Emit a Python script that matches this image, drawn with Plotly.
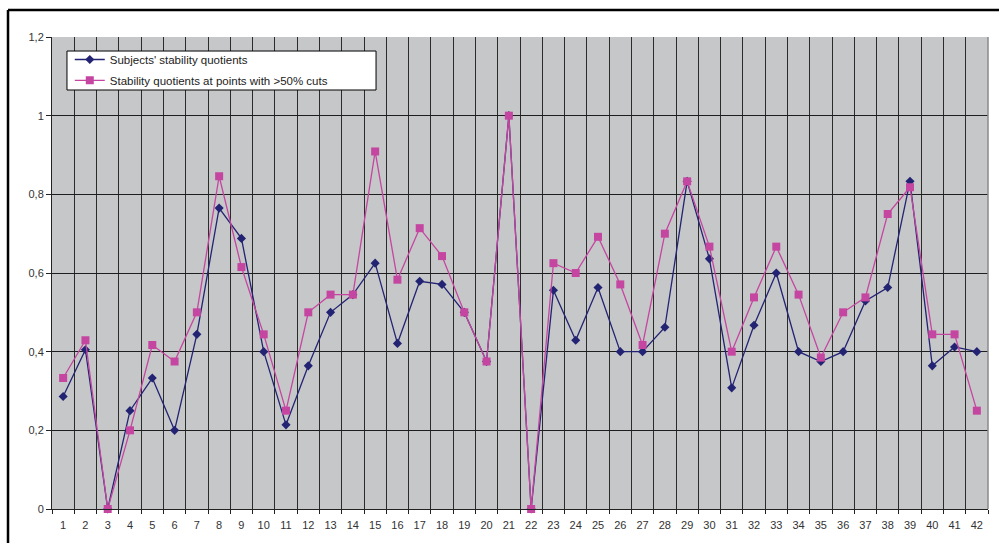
import plotly.graph_objects as go

categories = list(range(1, 43))
subjects = [0.286, 0.405, 0.0, 0.25, 0.333, 0.2, 0.444, 0.765, 0.688, 0.4,
            0.214, 0.364, 0.5, 0.545, 0.625, 0.421, 0.579, 0.571, 0.5, 0.375,
            1.0, 0.0, 0.556, 0.429, 0.563, 0.4, 0.4, 0.462, 0.833, 0.636,
            0.308, 0.467, 0.6, 0.4, 0.375, 0.4, 0.529, 0.563, 0.833, 0.364,
            0.412, 0.4]
cuts = [0.333, 0.429, 0.0, 0.2, 0.417, 0.375, 0.5, 0.846, 0.615, 0.444,
        0.25, 0.5, 0.545, 0.545, 0.909, 0.583, 0.714, 0.643, 0.5, 0.375,
        1.0, 0.0, 0.625, 0.6, 0.692, 0.571, 0.417, 0.7, 0.833, 0.667,
        0.4, 0.538, 0.667, 0.545, 0.385, 0.5, 0.538, 0.75, 0.818, 0.444,
        0.444, 0.25]
y_ticks = [0, 0.2, 0.4, 0.6, 0.8, 1.0, 1.2]
y_ticktext = ["0", "0,2", "0,4", "0,6", "0,8", "1", "1,2"]
names = ["Subjects' stability quotients", "Stability quotients at points with >50% cuts"]

BLUE = "#232373"
PINK = "#c546a0"

fig = go.Figure()
fig.add_trace(go.Scatter(
    x=categories, y=subjects, name=names[0], mode="lines+markers",
    line=dict(color=BLUE, width=1.3),
    marker=dict(symbol="diamond", size=7, color=BLUE),
    cliponaxis=False, legend="legend"))
fig.add_trace(go.Scatter(
    x=categories, y=cuts, name=names[1], mode="lines+markers",
    line=dict(color=PINK, width=1.3),
    marker=dict(symbol="square", size=8, color=PINK),
    cliponaxis=False, legend="legend2"))

leg_common = dict(xanchor="left", yanchor="top", bgcolor="rgba(0,0,0,0)",
                  borderwidth=0, font=dict(size=11.5, color="#222222"),
                  itemwidth=30)

fig.update_layout(
    width=999, height=543,
    margin=dict(l=52, r=11, t=37, b=34),
    paper_bgcolor="white",
    plot_bgcolor="#c6c7c9",
    font=dict(family="Liberation Sans, Arial, sans-serif", size=11, color="#333333"),
    showlegend=True,
    legend=dict(x=0.019, y=0.983, **leg_common),
    legend2=dict(x=0.019, y=0.939, **leg_common),
    xaxis=dict(
        range=[0.5, 42.5], tickmode="array", tickvals=categories,
        ticktext=[str(c) for c in categories],
        ticks="outside", ticklen=6, tickcolor="rgba(0,0,0,0)",
        showgrid=False, zeroline=False,
        showline=True, linecolor="#222222", linewidth=1,
        tickfont=dict(size=11, color="#333333"),
        minor=dict(tickmode="linear", tick0=0.5, dtick=1, ticks="outside",
                   ticklen=4, tickcolor="#222222", showgrid=True,
                   gridcolor="#2b2b2b", gridwidth=1)),
    yaxis=dict(
        range=[0, 1.2], tickmode="array", tickvals=y_ticks, ticktext=y_ticktext,
        ticks="outside", ticklen=5, tickcolor="#222222",
        showgrid=True, gridcolor="#1e1e1e", gridwidth=1, zeroline=False,
        showline=True, linecolor="#222222", linewidth=1,
        tickfont=dict(size=11, color="#333333")),
)

# legend box
fig.add_shape(type="rect", xref="paper", yref="paper", layer="above",
              x0=0.0160, x1=0.3462, y0=0.8877, y1=0.9703,
              fillcolor="white", line=dict(color="black", width=1))
# outer frame lines (top and left) and right plot edge
fig.add_shape(type="line", xref="paper", yref="paper",
              x0=-0.0470, x1=1.02, y0=1.0572, y1=1.0572,
              line=dict(color="black", width=2.5))
fig.add_shape(type="line", xref="paper", yref="paper",
              x0=-0.0470, x1=-0.0470, y0=1.0572, y1=-0.08,
              line=dict(color="black", width=2.5))
fig.add_shape(type="line", xref="paper", yref="paper",
              x0=1, x1=1, y0=0, y1=1,
              line=dict(color="#8a8a8a", width=1.5))

fig.write_html("out.html", config={"displayModeBar": False},
               post_script="document.body.style.margin='0px';")
